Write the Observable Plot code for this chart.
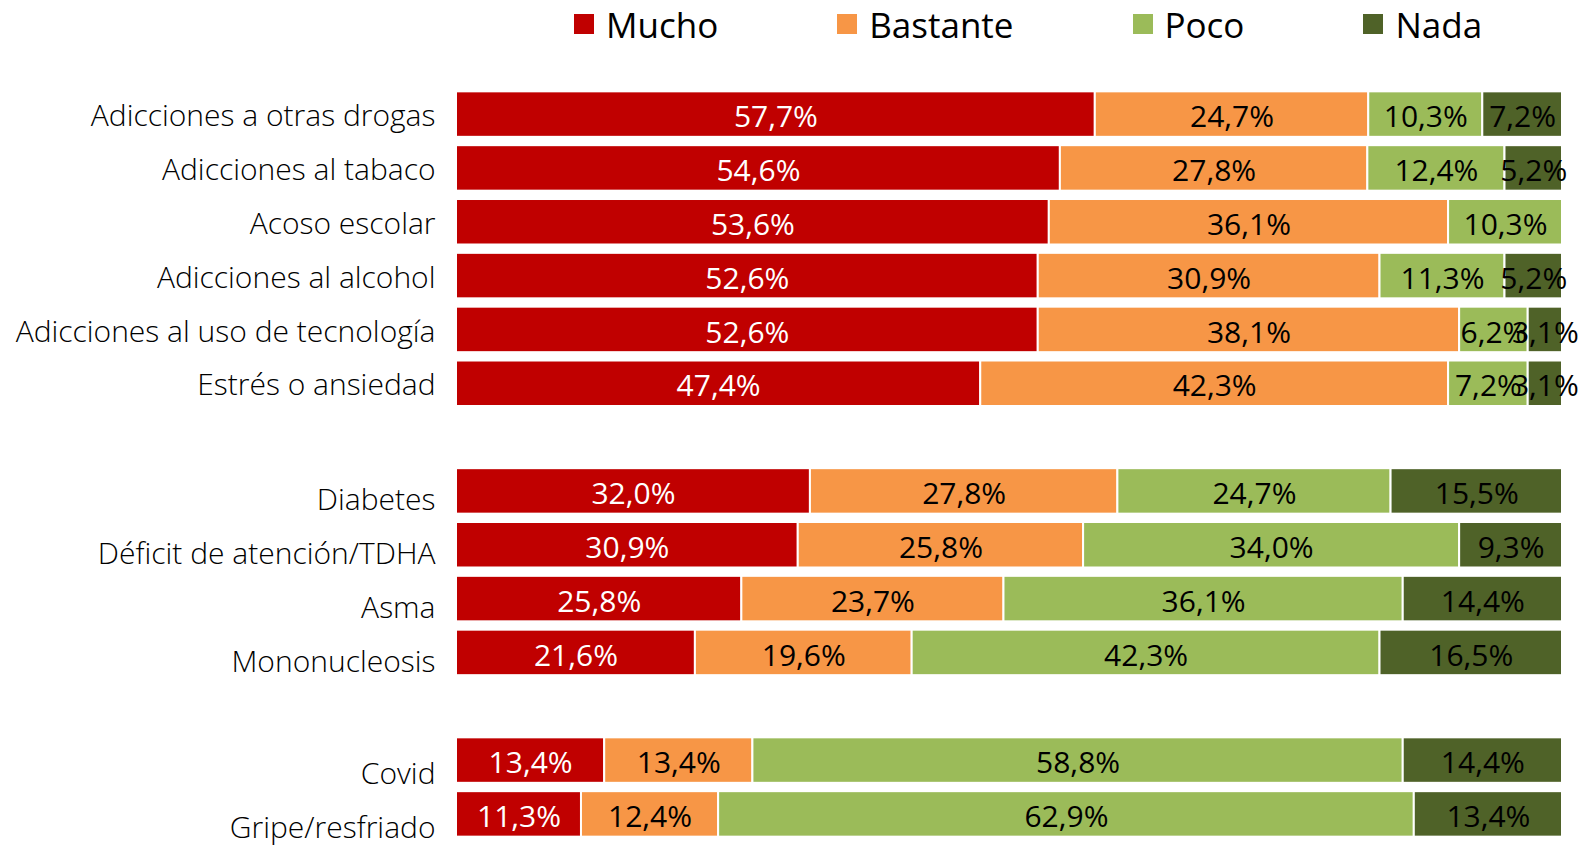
<!DOCTYPE html>
<html><head><meta charset="utf-8">
<script src="https://cdn.jsdelivr.net/npm/d3@7"></script>
<script src="https://cdn.jsdelivr.net/npm/@observablehq/plot@0.6"></script>
<style>
body{margin:0;background:#fff;font-family:"Open Sans",sans-serif;}
#legend{height:60px;display:flex;align-items:center;padding-left:574px;padding-bottom:12px;box-sizing:border-box;font-size:35px;color:#000;font-weight:400}
.item{display:flex;align-items:center;margin-right:119px}
.sw{width:20px;height:20px;margin-right:12px}
svg{overflow:visible}
</style></head><body>
<div id="legend"></div>
<div id="chart"></div>
<script>
const group1 = ["Adicciones a otras drogas","Adicciones al tabaco","Acoso escolar","Adicciones al alcohol","Adicciones al uso de tecnología","Estrés o ansiedad"];
const group2 = ["Diabetes","Déficit de atención/TDHA","Asma","Mononucleosis"];
const group3 = ["Covid","Gripe/resfriado"];
const categories = [...group1," ",...group2,"  ",...group3];
const levels = ["Mucho","Bastante","Poco","Nada"];
const colors = ["#C00000","#F79646","#9BBB59","#4F6228"];
const textColors = ["white","black","black","black"];
const mucho    = [57.7,54.6,53.6,52.6,52.6,47.4,null,32.0,30.9,25.8,21.6,null,13.4,11.3];
const bastante = [24.7,27.8,36.1,30.9,38.1,42.3,null,27.8,25.8,23.7,19.6,null,13.4,12.4];
const poco     = [10.3,12.4,10.3,11.3,6.2,7.2,null,24.7,34.0,36.1,42.3,null,58.8,62.9];
const nada     = [7.2,5.2,0,5.2,3.1,3.1,null,15.5,9.3,14.4,16.5,null,14.4,13.4];

const series = [mucho,bastante,poco,nada];
const data = [];
categories.forEach((c,i)=>{
  series.forEach((s,j)=>{
    if (s[i] != null && s[i] > 0) data.push({cat:c, level:levels[j], value:s[i], tc:textColors[j]});
  });
});

const leg = document.getElementById("legend");
levels.forEach((l,i)=>{
  const it = document.createElement("div"); it.className="item";
  it.innerHTML = `<div class="sw" style="background:${colors[i]}"></div><span>${l}</span>`;
  leg.appendChild(it);
});

const axisStyle = {tickSize:0, tickPadding:21, fontSize:30, fontWeight:300, fill:"#000"};
const stackOpts = {x:"value", y:"cat", order: levels, offset:"normalize"};
const chart = Plot.plot({
  width:1584, height:786,
  marginLeft:456, marginRight:22, marginTop:23, marginBottom:1,
  style:{fontFamily:"Open Sans, sans-serif", background:"white", overflow:"visible"},
  x:{domain:[0,1], axis:null},
  y:{domain:categories, padding:0.155, round:false, label:null, axis:null},
  color:{domain:levels, range:colors},
  marks:[
    Plot.barX(data, Plot.stackX({...stackOpts, fill:"level", stroke:"white", strokeWidth:2})),
    Plot.text(data, Plot.stackX({...stackOpts, z:"level", text:d=>d.value.toFixed(1).replace(".",",")+"%", fill:"tc", fontSize:30, dy:3})),
    Plot.axisY(group1, {...axisStyle, dy:2}),
    Plot.axisY(group2, {...axisStyle, dy:9}),
    Plot.axisY(group3, {...axisStyle, dy:14})
  ]
});
document.getElementById("chart").appendChild(chart);
</script>
</body></html>
